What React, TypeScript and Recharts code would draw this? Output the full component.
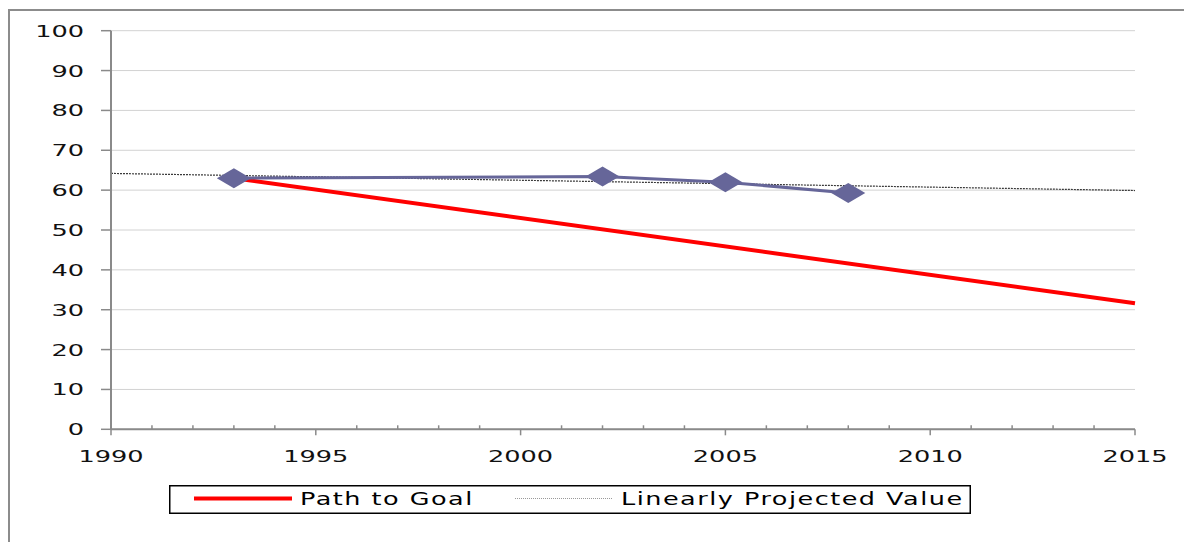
import { LineChart, Line, XAxis, YAxis, CartesianGrid, Legend } from "recharts";

// values (percent)
const years = [1990, 1993, 2002, 2005, 2008, 2015];
const pathToGoal = [null, 63.0, null, null, null, 31.6];
const projected = [64.2, null, null, null, null, 59.9];
const observed = [null, 63.0, 63.4, 62.0, 59.3, null];

const xTicks = [
  1990, 1991, 1992, 1993, 1994, 1995, 1996, 1997, 1998, 1999, 2000, 2001, 2002,
  2003, 2004, 2005, 2006, 2007, 2008, 2009, 2010, 2011, 2012, 2013, 2014, 2015,
];
const yTicks = [0, 10, 20, 30, 40, 50, 60, 70, 80, 90, 100];

const data = years.map((year, i) => ({
  year,
  goal: pathToGoal[i],
  proj: projected[i],
  actual: observed[i],
}));

const FONT = "'DejaVu Sans', Verdana, sans-serif";
const AXIS = "#8a8a8a";

function XTick(props: any) {
  const { x, y, payload } = props;
  const v = payload.value as number;
  if (v % 5 !== 0) {
    return <line x1={x} x2={x} y1={y - 4} y2={y} stroke={AXIS} strokeWidth={1.5} />;
  }
  return (
    <g>
      <line x1={x} x2={x} y1={y} y2={y + 6} stroke={AXIS} strokeWidth={1.5} />
      <text
        transform={`translate(${x},${y + 32.5}) scale(1.6,1)`}
        textAnchor="middle"
        fontSize={16}
        fontFamily={FONT}
        fill="#111"
      >
        {v}
      </text>
    </g>
  );
}

function YTick(props: any) {
  const { x, y, payload } = props;
  return (
    <g>
      <line x1={x - 10} x2={x} y1={y} y2={y} stroke={AXIS} strokeWidth={1.5} />
      <text
        transform={`translate(${x - 27},${y + 6}) scale(1.6,1)`}
        textAnchor="end"
        fontSize={16}
        fontFamily={FONT}
        fill="#111"
      >
        {payload.value}
      </text>
    </g>
  );
}

function Diamond(props: any) {
  const { cx, cy } = props;
  if (cx == null || cy == null) return null;
  return (
    <polygon
      points={`${cx - 17},${cy} ${cx},${cy - 10} ${cx + 17},${cy} ${cx},${cy + 10}`}
      fill="#666699"
    />
  );
}

function LegendBox() {
  const txt = { fontSize: 17, fontFamily: FONT, fill: "#000", letterSpacing: 1 };
  return (
    <svg width={802} height={29} style={{ display: "block" }}>
      <rect x={0.75} y={0.75} width={800.5} height={27.5} fill="#fff" stroke="#000" strokeWidth={1.5} />
      <line x1={25} x2={123} y1={13.5} y2={13.5} stroke="#ff0000" strokeWidth={4} />
      <text transform="translate(131,19.5) scale(1.5,1)" {...txt}>
        Path to Goal
      </text>
      <line x1={346} x2={444} y1={13.5} y2={13.5} stroke="#999" strokeWidth={1} strokeDasharray="1 1" />
      <text transform="translate(452,19.5) scale(1.5,1)" {...txt}>
        Linearly Projected Value
      </text>
    </svg>
  );
}

export default function App() {
  return (
    <div style={{ position: "absolute", left: 0, top: 0, width: 1184, height: 542, background: "#fff" }}>
      <div
        style={{
          position: "absolute",
          left: 8,
          top: 9,
          width: 1174,
          height: 531,
          borderLeft: "2px solid #8c8c8c",
          borderTop: "2px solid #8c8c8c",
        }}
      />
      <LineChart
        width={1184}
        height={542}
        data={data}
        margin={{ top: 30.7, right: 49, bottom: 0, left: 0 }}
        style={{ position: "absolute", left: 0, top: 0 }}
      >
        <CartesianGrid vertical={false} stroke="#d2d2d2" strokeWidth={1} />
        <XAxis
          dataKey="year"
          type="number"
          domain={[1990, 2015]}
          ticks={xTicks}
          interval={0}
          tick={<XTick />}
          tickLine={false}
          tickSize={0}
          tickMargin={0}
          height={112.7}
          axisLine={{ stroke: AXIS, strokeWidth: 2 }}
        />
        <YAxis
          type="number"
          domain={[0, 100]}
          ticks={yTicks}
          interval={0}
          tick={<YTick />}
          tickLine={false}
          tickSize={0}
          tickMargin={0}
          width={111}
          axisLine={{ stroke: AXIS, strokeWidth: 2 }}
        />
        <Legend
          layout="vertical"
          align="center"
          verticalAlign="middle"
          content={<LegendBox />}
          wrapperStyle={{ left: 169, top: 485, width: 802, height: 29 }}
        />
        <Line
          dataKey="proj"
          stroke="#3a3a3a"
          strokeWidth={1.2}
          strokeDasharray="2 1"
          dot={false}
          connectNulls
          isAnimationActive={false}
        />
        <Line
          dataKey="goal"
          stroke="#ff0000"
          strokeWidth={4}
          dot={false}
          connectNulls
          isAnimationActive={false}
        />
        <Line
          dataKey="actual"
          stroke="#666699"
          strokeWidth={3}
          dot={<Diamond />}
          activeDot={false}
          connectNulls
          isAnimationActive={false}
        />
      </LineChart>
    </div>
  );
}
